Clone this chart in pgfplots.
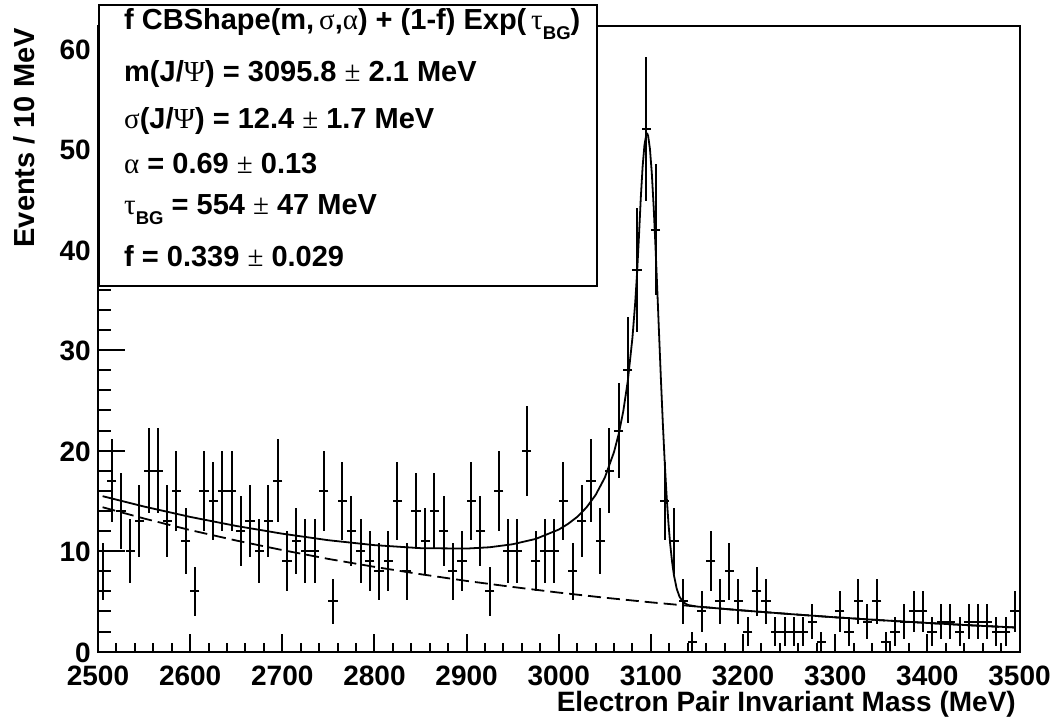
\documentclass[border=0pt]{standalone}
\usepackage{fontspec}
\setmainfont{Liberation Sans}
\newfontfamily\gr{Liberation Serif}
\usepackage{pgfplots}
\usepackage{pgfplotstable}
\pgfplotsset{compat=1.18}
\newcommand{\F}{\fontsize{28}{32}\selectfont\bfseries}
\newcommand{\FB}{\fontsize{29}{33}\selectfont\bfseries}
\newcommand{\G}[1]{{\gr\mdseries #1}}
\newcommand{\sub}[1]{\raisebox{-10pt}{\fontsize{18.5}{20}\selectfont\bfseries #1}}

\pgfplotstableread{
x y ey
2505 8 2.828
2515 17 4.123
2525 14 3.742
2535 10 3.162
2545 13 3.606
2555 18 4.243
2565 18 4.243
2575 13 3.606
2585 16 4
2595 11 3.317
2605 6 2.449
2615 16 4
2625 15 3.873
2635 16 4
2645 16 4
2655 12 3.464
2665 13 3.606
2675 10 3.162
2685 13 3.606
2695 17 4.123
2705 9 3
2715 11 3.317
2725 10 3.162
2735 10 3.162
2745 16 4
2755 5 2.236
2765 15 3.873
2775 12 3.464
2785 10 3.162
2795 9 3
2805 8 2.828
2815 9 3
2825 15 3.873
2835 8 2.828
2845 14 3.742
2855 11 3.317
2865 14 3.742
2875 12 3.464
2885 8 2.828
2895 9 3
2905 15 3.873
2915 12 3.464
2925 6 2.449
2935 16 4
2945 10 3.162
2955 10 3.162
2965 20 4.472
2975 9 3
2985 10 3.162
2995 10 3.162
3005 15 3.873
3015 8 2.828
3025 13 3.606
3035 17 4.123
3045 11 3.317
3055 18 4.243
3065 22 4.690
3075 28 5.292
3085 38 6.164
3095 52 7.211
3105 42 6.481
3115 15 3.873
3125 11 3.317
3135 5 2.236
3145 1 1
3155 4 2
3165 9 3
3175 5 2.236
3185 8 2.828
3195 5 2.236
3205 2 1.414
3215 6 2.449
3225 5 2.236
3235 2 1.414
3245 2 1.414
3255 2 1.414
3265 2 1.414
3275 3 1.732
3285 1 1
3295 0 0
3305 4 2
3315 2 1.414
3325 5 2.236
3335 3 1.732
3345 5 2.236
3355 1 1
3365 2 1.414
3375 3 1.732
3385 4 2
3395 4 2
3405 2 1.414
3415 3 1.732
3425 3 1.732
3435 2 1.414
3445 3 1.732
3455 3 1.732
3465 3 1.732
3475 2 1.414
3485 2 1.414
3495 4 2
}\histdata

\pgfplotsset{myframe/.style={
  scale only axis, width=921.5pt, height=625.2pt,
  at={(0,0)}, anchor=south west,
  xmin=2500, xmax=3500, ymin=0, ymax=62.2,
  axis line style={line width=2pt, black},
  tick align=inside,
  tick style={black, line width=2pt},
  /pgf/number format/assume math mode=true,
  /pgf/number format/1000 sep={},
  ticklabel style={font=\F, inner sep=0pt},
}}

\begin{document}
\begin{tikzpicture}
% axis with x ticks
\begin{axis}[myframe,
  xtick={2500,2600,...,3500}, minor x tick num=4, xtick pos=bottom,
  ytick=\empty,
  major tick length=18pt, minor tick length=9pt,
  xticklabel style={anchor=north, yshift=-14pt},
]
\end{axis}
% axis with y ticks and data
\begin{axis}[myframe,
  ytick={0,10,...,60}, minor y tick num=4, ytick pos=left,
  xtick=\empty,
  major tick length=27pt, minor tick length=13pt,
  yticklabel style={anchor=east, xshift=-7pt, yshift=-1pt},
]
% vertical error bars (sqrt N)
\addplot[draw=none, mark=none, forget plot,
  error bars/.cd, y dir=both, y explicit,
  error mark=none, error bar style={draw=black, line width=2pt}]
  table[x=x, y=y, y error=ey] {\histdata};
% horizontal bin-width bars
\addplot[only marks, mark=-, mark size=4.61pt,
  mark options={draw=black, line width=2pt}]
  table[x=x, y=y] {\histdata};
% background component (dashed)
\addplot[black, line width=1.8pt, dash pattern=on 13pt off 6pt] coordinates {
(2505,14.37) (2550,13.25) (2600,12.10) (2650,11.06) (2700,10.11) (2750,9.23)
(2800,8.44) (2850,7.71) (2900,7.04) (2950,6.44) (3000,5.88) (3050,5.37)
(3100,4.91) (3150,4.49) (3200,4.10) (3250,3.75) (3300,3.42) (3350,3.13)
(3400,2.86) (3450,2.61) (3495,2.41)};
% total fit (solid)
\addplot[black, line width=1.8pt, line join=round] coordinates {
(2505,15.47) (2550,14.44) (2600,13.41) (2650,12.51) (2700,11.74) (2750,11.09)
(2800,10.60) (2850,10.30) (2900,10.26) (2925,10.39) (2950,10.69) (2975,11.22)
(3000,12.15) (3010,12.71) (3020,13.41) (3030,14.34) (3040,15.59) (3050,17.32)
(3060,19.87) (3065,21.64) (3070,23.91) (3075,26.98) (3080,31.26) (3083,34.77)
(3085,37.69) (3087,41.26) (3089,45.10) (3091,48.23) (3093,50.41) (3095,51.46)
(3096,51.55) (3097,51.32) (3099,49.99) (3101,47.58) (3103,44.26) (3105,40.26)
(3107,35.84) (3109,31.29) (3111,26.81) (3113,22.61) (3115,18.83) (3117,15.58)
(3119,12.84) (3121,10.64) (3123,8.92) (3125,7.61) (3128,6.27) (3131,5.48)
(3135,4.93) (3140,4.65) (3150,4.49) (3200,4.10) (3250,3.75) (3300,3.42)
(3350,3.13) (3400,2.86) (3450,2.61) (3495,2.41)};
\end{axis}
% parameter box
\draw[line width=2pt, fill=white] (1pt,365.7pt) rectangle (499.3pt,646.7pt);
\begin{scope}[every node/.style={anchor=base west, inner sep=0pt, font=\FB}]
\node at (26pt,621.7pt) {f CBShape(m,\,\G{σ},\G{α}) + (1-f) Exp(\,\G{τ}\sub{BG})};
\node at (26pt,570pt) {m(J/\G{Ψ}) = 3095.8 \G{±} 2.1 MeV};
\node at (26pt,523.4pt) {\G{σ}(J/\G{Ψ}) = 12.4 \G{±} 1.7 MeV};
\node at (26pt,478.4pt) {\G{α} = 0.69 \G{±} 0.13};
\node at (26pt,436.7pt) {\G{τ}\sub{BG} = 554 \G{±} 47 MeV};
\node at (26pt,385pt) {f = 0.339 \G{±} 0.029};
\end{scope}
% axis titles
\node[anchor=base east, inner sep=0pt, font=\F] at (918pt,-60.3pt) {Electron Pair Invariant Mass (MeV)};
\node[rotate=90, anchor=base east, inner sep=0pt, font=\FB] at (-63pt,623.7pt) {Events / 10 MeV};
\pgfresetboundingbox
\path[use as bounding box] (-98pt,-70.3pt) rectangle (957pt,651.7pt);
\end{tikzpicture}
\end{document}
